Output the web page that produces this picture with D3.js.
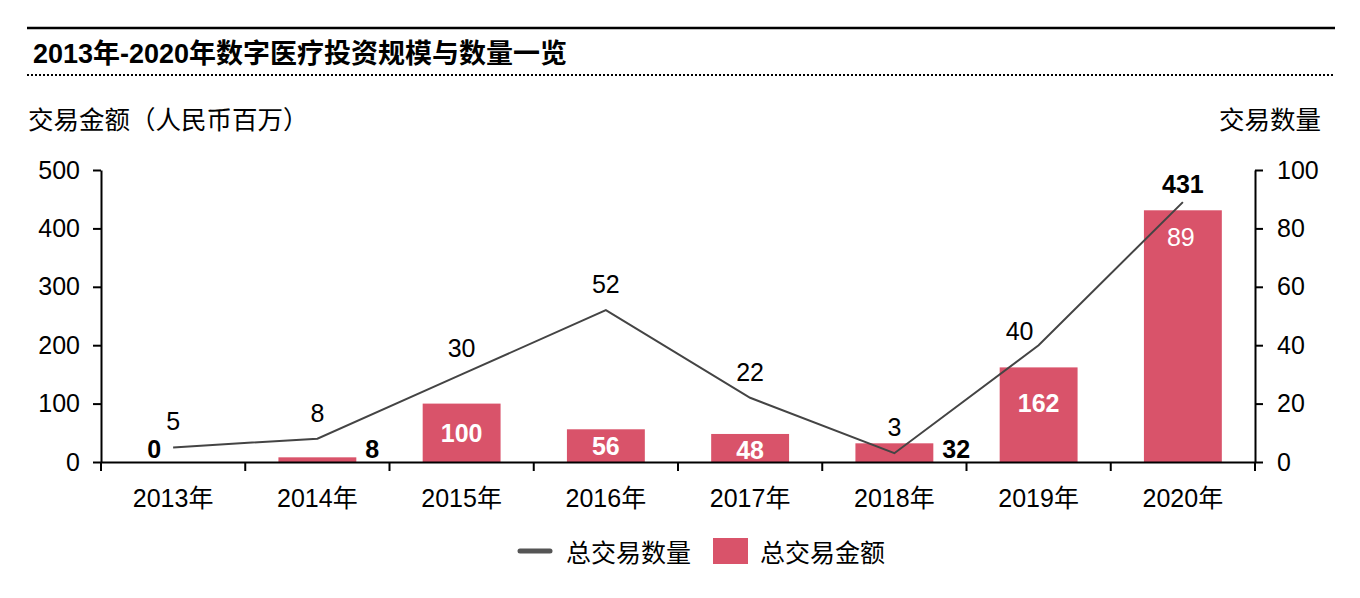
<!DOCTYPE html>
<html>
<head>
<meta charset="utf-8">
<script src="https://cdn.jsdelivr.net/npm/d3@7"></script>
<style>
  body { margin: 0; background: #fff; }
  svg text { font-family: "Liberation Sans", Arial, "Noto Sans CJK SC", sans-serif; }
</style>
</head>
<body>
<div id="container"></div>
<script>
// chart data
const years = ["2013年", "2014年", "2015年", "2016年", "2017年", "2018年", "2019年", "2020年"];
const amounts = [0, 8, 100, 56, 48, 32, 162, 431];   // 总交易金额 (人民币百万)
const counts = [5, 8, 30, 52, 22, 3, 40, 89];         // 总交易数量
const leftTicks = [0, 100, 200, 300, 400, 500];
const rightTicks = [0, 20, 40, 60, 80, 100];

// label placement (how each data label sits)
const barLabelMode = ["left", "right", "center", "center", "center", "right", "center", "above"];
const barLabelNudge = [0, 0, 0, 0, 2, 0, -12, 0];
const lineLabelMode = ["above", "above", "above", "above", "above", "above", "side", "inside"];

const width = 1360;
const height = 598;
const marginLeft = 101;
const marginRight = 105;
const plotTop = 170;
const plotBottom = 462;
const fontSize = 25;

const barColor = "#d9536a";
const lineColor = "#444";

const svg = d3.select("#container")
  .append("svg")
  .attr("width", width)
  .attr("height", height);

// header lines + title
svg.append("line")
  .attr("x1", 27).attr("x2", 1335).attr("y1", 28).attr("y2", 28)
  .attr("stroke", "#000").attr("stroke-width", 2.5);
svg.append("line")
  .attr("x1", 27).attr("x2", 1335).attr("y1", 75).attr("y2", 75)
  .attr("stroke", "#000").attr("stroke-width", 2).attr("stroke-dasharray", "2,2");
svg.append("text")
  .attr("x", 33).attr("y", 63)
  .attr("font-size", 27).attr("font-weight", "bold")
  .text("2013年-2020年数字医疗投资规模与数量一览");

// axis titles
svg.append("text")
  .attr("x", 28).attr("y", 129)
  .attr("font-size", 25.5)
  .text("交易金额（人民币百万）");
svg.append("text")
  .attr("x", 1321).attr("y", 129)
  .attr("font-size", 25.5).attr("text-anchor", "end")
  .text("交易数量");

// scales
const x = d3.scaleBand()
  .domain(years)
  .range([marginLeft, width - marginRight])
  .paddingInner(0.46)
  .paddingOuter(0.23);

const yLeft = d3.scaleLinear().domain([0, 500]).range([plotBottom, plotTop]);
const yRight = d3.scaleLinear().domain([0, 100]).range([plotBottom, plotTop]);

const cx = d => x(d) + x.bandwidth() / 2;

// bars
svg.append("g")
  .selectAll("rect")
  .data(years)
  .join("rect")
  .attr("x", d => x(d))
  .attr("width", x.bandwidth())
  .attr("y", (d, i) => yLeft(amounts[i]))
  .attr("height", (d, i) => plotBottom - yLeft(amounts[i]))
  .attr("fill", barColor);

// line
const line = d3.line()
  .x((d, i) => cx(years[i]))
  .y(d => yRight(d));

svg.append("path")
  .datum(counts)
  .attr("fill", "none")
  .attr("stroke", lineColor)
  .attr("stroke-width", 2)
  .attr("d", line);

// axes
const axisLeft = svg.append("g")
  .attr("transform", `translate(${marginLeft},0)`)
  .call(d3.axisLeft(yLeft).tickValues(leftTicks).tickSize(8).tickSizeOuter(0).tickPadding(13));

const axisRight = svg.append("g")
  .attr("transform", `translate(${width - marginRight},0)`)
  .call(d3.axisRight(yRight).tickValues(rightTicks).tickSize(8).tickSizeOuter(0).tickPadding(14));

const axisBottom = svg.append("g")
  .attr("transform", `translate(0,${plotBottom})`)
  .call(d3.axisBottom(x).tickSize(0).tickSizeOuter(0).tickPadding(27));

// category boundary ticks on the x axis
const boundaries = d3.range(years.length + 1).map(i => marginLeft + i * x.step());
axisBottom.selectAll(".boundary")
  .data(boundaries)
  .join("line")
  .attr("class", "boundary")
  .attr("x1", d => d).attr("x2", d => d)
  .attr("y1", 0).attr("y2", 9)
  .attr("stroke", "#000").attr("stroke-width", 2);

[axisLeft, axisRight, axisBottom].forEach(g => {
  g.selectAll("path.domain").attr("stroke", "#000").attr("stroke-width", 2);
  g.selectAll(".tick line").attr("stroke", "#000").attr("stroke-width", 2);
  g.selectAll("text")
    .attr("font-size", fontSize)
    .attr("fill", "#000")
    .attr("font-family", '"Liberation Sans", Arial, "Noto Sans CJK SC", sans-serif');
});

// bar value labels
svg.append("g")
  .selectAll("text")
  .data(years)
  .join("text")
  .attr("font-size", fontSize)
  .attr("font-weight", "bold")
  .attr("fill", (d, i) => barLabelMode[i] === "center" ? "#fff" : "#000")
  .attr("text-anchor", (d, i) => ({ left: "end", right: "start", center: "middle", above: "middle" })[barLabelMode[i]])
  .attr("x", (d, i) => {
    const m = barLabelMode[i];
    if (m === "left") return cx(d) - 12;
    if (m === "right") return x(d) + x.bandwidth() + 9;
    return cx(d);
  })
  .attr("y", (d, i) => {
    const m = barLabelMode[i];
    const top = yLeft(amounts[i]);
    if (m === "above") return top - 17;
    if (m === "center") return (top + plotBottom) / 2 + 9 + barLabelNudge[i];
    return plotBottom - 4;
  })
  .text((d, i) => amounts[i]);

// line value labels
svg.append("g")
  .selectAll("text")
  .data(years)
  .join("text")
  .attr("font-size", fontSize)
  .attr("text-anchor", "middle")
  .attr("fill", (d, i) => lineLabelMode[i] === "inside" ? "#fff" : "#000")
  .attr("x", (d, i) => {
    const m = lineLabelMode[i];
    if (m === "side") return cx(d) - 19;
    if (m === "inside") return cx(d) - 2;
    return cx(d);
  })
  .attr("y", (d, i) => {
    const m = lineLabelMode[i];
    const py = yRight(counts[i]);
    if (m === "side") return py - 5;
    if (m === "inside") return py + 44;
    return py - 17;
  })
  .text((d, i) => counts[i]);

// legend
const legend = svg.append("g");
legend.append("line")
  .attr("x1", 520).attr("x2", 550).attr("y1", 551).attr("y2", 551)
  .attr("stroke", "#555").attr("stroke-width", 5).attr("stroke-linecap", "round");
legend.append("text")
  .attr("x", 566).attr("y", 562).attr("font-size", fontSize)
  .text("总交易数量");
legend.append("rect")
  .attr("x", 713).attr("y", 538).attr("width", 35).attr("height", 26)
  .attr("fill", barColor);
legend.append("text")
  .attr("x", 760).attr("y", 562).attr("font-size", fontSize)
  .text("总交易金额");
</script>
</body>
</html>
